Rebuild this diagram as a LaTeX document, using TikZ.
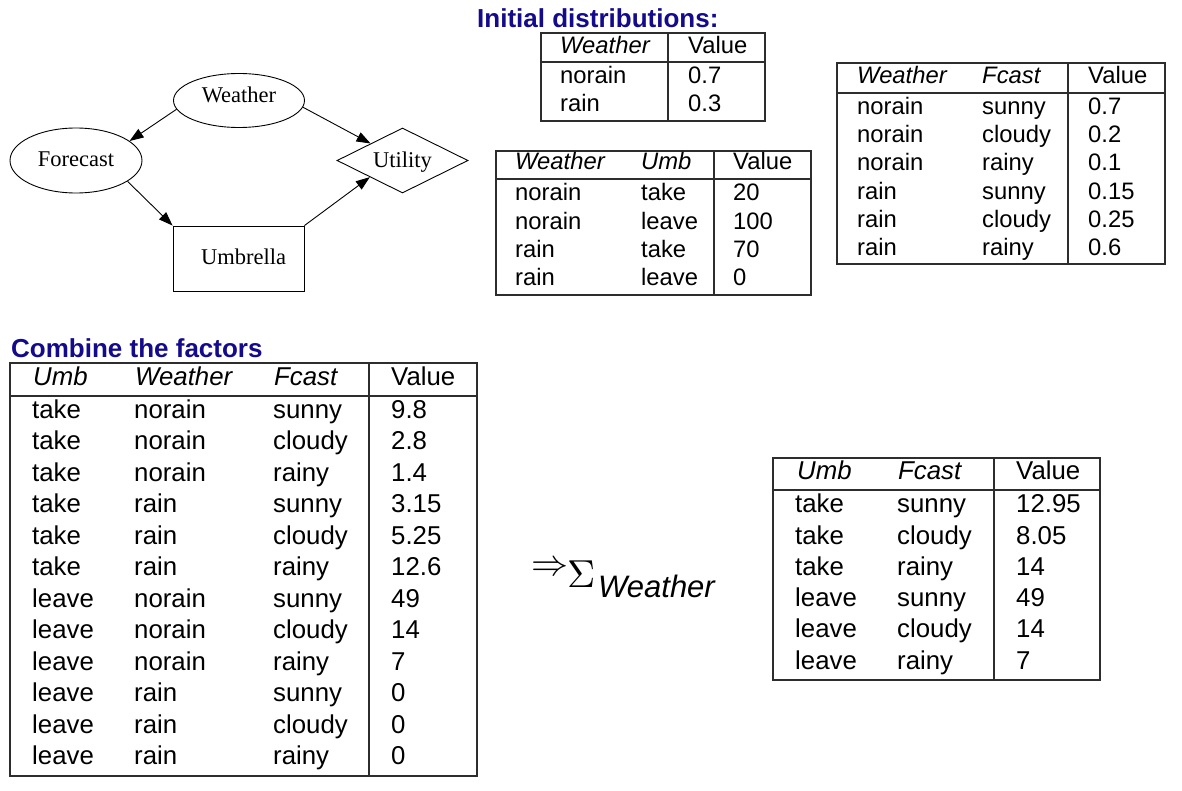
\documentclass[tikz,border=0pt]{standalone}
\usepackage{fontspec}
\newfontfamily\tsans{Liberation Sans}
\newfontfamily\tserif{Liberation Serif}
\usetikzlibrary{shapes.geometric,arrows.meta}
\definecolor{navyt}{RGB}{20,10,140}
\definecolor{rulec}{RGB}{45,45,45}
\begin{document}
\begin{tikzpicture}[x=1pt,y=-1pt,
  gnode/.style={draw,line width=0.9pt,inner sep=0pt,font=\tserif\fontsize{22.5}{24}\selectfont},
  gedge/.style={line width=0.9pt,-{Triangle[length=14pt,width=10pt]}},
  sm/.style={anchor=base west,inner sep=0pt,font=\tsans\fontsize{23.8}{26}\selectfont},
  smh/.style={anchor=base west,inner sep=0pt,font=\tsans\itshape\fontsize{23.8}{26}\selectfont},
  bg/.style={anchor=base west,inner sep=0pt,font=\tsans\fontsize{25.8}{28}\selectfont},
  bgh/.style={anchor=base west,inner sep=0pt,font=\tsans\itshape\fontsize{25.8}{28}\selectfont},
  tabline/.style={draw=rulec,line width=1.6pt},
  ttl/.style={anchor=base west,inner sep=0pt,text=navyt,font=\tsans\bfseries\fontsize{26}{28}\selectfont}]
\path[fill=white] (0,0) rectangle (1182,791);
\useasboundingbox (0,0) rectangle (1182,791);

% ---- graph ----
\node[gnode,ellipse,minimum width=131pt,minimum height=54pt,text depth=12.6pt] (W) at (239,100.5) {Weather};
\node[gnode,ellipse,minimum width=132pt,minimum height=65pt,text depth=3pt] (F) at (76,160.5) {Forecast};
\node[gnode,diamond,aspect=2,minimum width=131pt,minimum height=65pt,text depth=1.8pt] (U) at (402.5,160.5) {Utility};
\node[gnode,rectangle,minimum width=131pt,minimum height=65pt,text depth=4.4pt] (B) at (238.5,258.5) {\hspace*{10pt}Umbrella};
\draw[gedge] (W.188) -- (F.20);
\draw[gedge] (W.354) -- (U.152);
\draw[gedge] (F.338) -- (B.north west);
\draw[gedge] (B.north east) -- (U.207);

% ---- titles ----
\node[ttl] (t1) at (477,28) {Initial distributions:};
\node[ttl] (t2) at (11,357) {Combine the factors};

% ---- table A ----
\draw[tabline] (541,33) rectangle (765,121);
\draw[tabline] (541,62) -- (765,62);
\draw[tabline] (668,33) -- (668,121);
\node[smh] (a-h1) at (560,53.3) {Weather};
\node[sm] (a-h2) at (688,53.3) {Value};
\foreach \w/\v [count=\i] in {norain/0.7,rain/0.3}{
  \node[sm] (a-\i-1) at (560,55.3+28*\i) {\w};
  \node[sm] (a-\i-2) at (688,55.3+28*\i) {\v};
}

% ---- table B ----
\draw[tabline] (496,151) rectangle (811,295);
\draw[tabline] (496,179) -- (811,179);
\draw[tabline] (714,151) -- (714,295);
\node[smh] (b-h1) at (515,170) {Weather};
\node[smh] (b-h2) at (641,170) {Umb};
\node[sm] (b-h3) at (733,170) {Value};
\foreach \w/\u/\v [count=\i] in {norain/take/20,norain/leave/100,rain/take/70,rain/leave/0}{
  \node[sm] (b-\i-1) at (515,172.37+28.33*\i) {\w};
  \node[sm] (b-\i-2) at (641,172.37+28.33*\i) {\u};
  \node[sm] (b-\i-3) at (733,172.37+28.33*\i) {\v};
}

% ---- table C ----
\draw[tabline] (837,63) rectangle (1165,264);
\draw[tabline] (837,93) -- (1165,93);
\draw[tabline] (1068,63) -- (1068,264);
\node[smh] (c-h1) at (857,83.3) {Weather};
\node[smh] (c-h2) at (982,83.3) {Fcast};
\node[sm] (c-h3) at (1088,83.3) {Value};
\foreach \w/\f/\v [count=\i] in {norain/sunny/0.7,norain/cloudy/0.2,norain/rainy/0.1,rain/sunny/0.15,rain/cloudy/0.25,rain/rainy/0.6}{
  \node[sm] (c-\i-1) at (857,86+28.3*\i) {\w};
  \node[sm] (c-\i-2) at (982,86+28.3*\i) {\f};
  \node[sm] (c-\i-3) at (1088,86+28.3*\i) {\v};
}

% ---- table D ----
\draw[tabline] (10,363) rectangle (477,776);
\draw[tabline] (10,396) -- (477,396);
\draw[tabline] (369,363) -- (369,776);
\node[bgh] (d-h1) at (33,385) {Umb};
\node[bgh] (d-h2) at (135,385) {Weather};
\node[bgh] (d-h3) at (274,385) {Fcast};
\node[bg] (d-h4) at (391,385) {Value};
\foreach \u/\w/\f/\v [count=\i] in {take/norain/sunny/9.8,take/norain/cloudy/2.8,take/norain/rainy/1.4,take/rain/sunny/3.15,take/rain/cloudy/5.25,take/rain/rainy/12.6,leave/norain/sunny/49,leave/norain/cloudy/14,leave/norain/rainy/7,leave/rain/sunny/0,leave/rain/cloudy/0,leave/rain/rainy/0}{
  \node[bg] (d-\i-1) at (32,386.8+31.5*\i) {\u};
  \node[bg] (d-\i-2) at (134,386.8+31.5*\i) {\w};
  \node[bg] (d-\i-3) at (273,386.8+31.5*\i) {\f};
  \node[bg] (d-\i-4) at (391,386.8+31.5*\i) {\v};
}

% ---- sum ----
\node[anchor=base west,inner sep=0pt] (s1) at (531,575) {\scalebox{3.7}{$\Rightarrow$}};
\node[anchor=base west,inner sep=0pt] (s2) at (567,587) {\scalebox{3.9}{$\Sigma$}};
\node[anchor=base west,inner sep=0pt,font=\tsans\itshape\fontsize{31}{32}\selectfont] (s3) at (598,597) {Weather};

% ---- table E ----
\draw[tabline] (773,458) rectangle (1100,680);
\draw[tabline] (773,490) -- (1100,490);
\draw[tabline] (994,458) -- (994,680);
\node[bgh] (e-h1) at (797,479.3) {Umb};
\node[bgh] (e-h2) at (898,479.3) {Fcast};
\node[bg] (e-h3) at (1016,479.3) {Value};
\foreach \u/\f/\v [count=\i] in {take/sunny/12.95,take/cloudy/8.05,take/rainy/14,leave/sunny/49,leave/cloudy/14,leave/rainy/7}{
  \node[bg] (e-\i-1) at (795,481.4+31.3*\i) {\u};
  \node[bg] (e-\i-2) at (897,481.4+31.3*\i) {\f};
  \node[bg] (e-\i-3) at (1016,481.4+31.3*\i) {\v};
}
\end{tikzpicture}
\end{document}
